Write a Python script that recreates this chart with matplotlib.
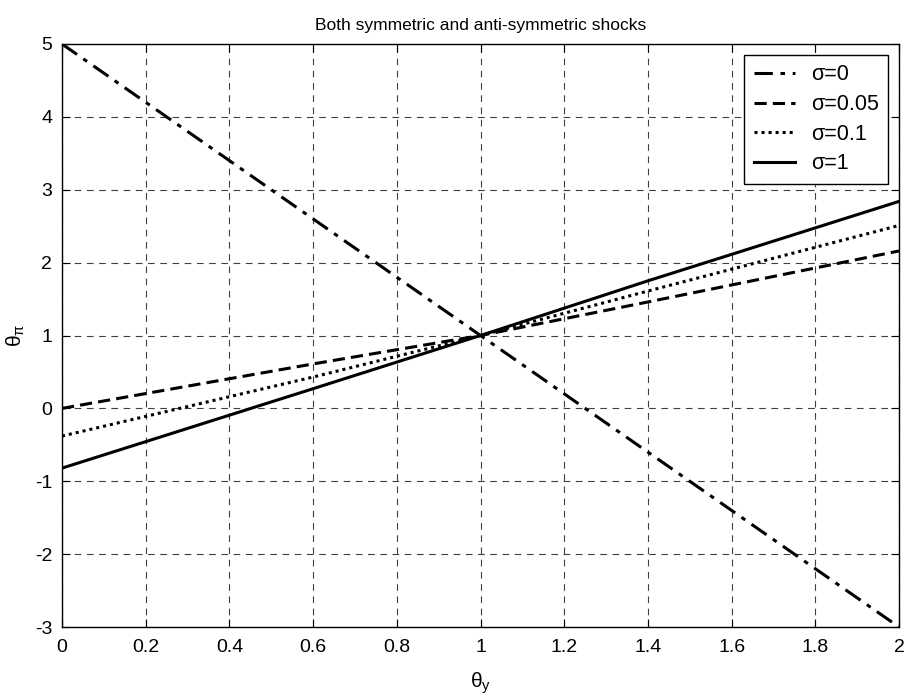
import matplotlib
matplotlib.use("Agg")
import matplotlib.pyplot as plt
import numpy as np

plt.rcParams['font.family'] = ['Liberation Sans', 'DejaVu Sans']
plt.rcParams['mathtext.fontset'] = 'custom'
plt.rcParams['mathtext.rm'] = 'Liberation Sans'
plt.rcParams['mathtext.it'] = 'Liberation Sans'
plt.rcParams['axes.unicode_minus'] = False

# values
theta_y = [0, 0.6, 1, 1.4, 2]
pi_s0 = [5, 2.6, 1, -0.6, -3]
pi_s005 = [0, 0.61, 1, 1.46, 2.16]
pi_s01 = [-0.38, 0.43, 1, 1.61, 2.51]
pi_s1 = [-0.82, 0.27, 1, 1.75, 2.84]
labels = [u"\u03c3=0", u"\u03c3=0.05", u"\u03c3=0.1", u"\u03c3=1"]

fig = plt.figure(figsize=(9.06, 6.98), dpi=100)
ax = fig.add_axes([62 / 906, 1 - 627 / 698, (899 - 62) / 906, (627 - 44) / 698])

lw = 2.2
ax.plot(theta_y, pi_s0, color="black", lw=lw, linestyle=(0, (6, 2.5, 1.5, 2.5)), label=labels[0])
ax.plot(theta_y, pi_s005, color="black", lw=lw, linestyle=(0, (4, 2)), label=labels[1])
ax.plot(theta_y, pi_s01, color="black", lw=lw, linestyle=(0, (1, 1.3)), label=labels[2])
ax.plot(theta_y, pi_s1, color="black", lw=lw, linestyle="-", label=labels[3])

ax.set_xlim(0, 2)
ax.set_ylim(-3, 5)
ax.set_xticks(np.arange(0, 2.01, 0.2))
ax.set_xticklabels(["0", "0.2", "0.4", "0.6", "0.8", "1", "1.2", "1.4", "1.6", "1.8", "2"])
ax.set_yticks(range(-3, 6))
ax.grid(True, color="#404040", linestyle=(0, (6, 5)), lw=0.8)
ax.tick_params(direction="in", top=True, right=True, length=6, labelsize=14)
ax.tick_params(axis="x", pad=9)
ax.tick_params(axis="y", pad=7)
for s in ax.spines.values():
    s.set_linewidth(1.0)

ax.set_title("Both symmetric and anti-symmetric shocks", fontsize=12.5, pad=10)
ax.set_xlabel(r"$\theta_y$", fontsize=15, labelpad=10)
ax.set_ylabel(r"$\theta_\pi$", fontsize=15, labelpad=6)

leg = ax.legend(loc="upper right", fontsize=15.5, fancybox=False, framealpha=1,
                edgecolor="black", handlelength=1.9, handletextpad=0.75,
                borderaxespad=0.5, labelspacing=0.4, borderpad=0.45)
leg.get_frame().set_linewidth(1.0)

fig.savefig("out.png", dpi=100)
